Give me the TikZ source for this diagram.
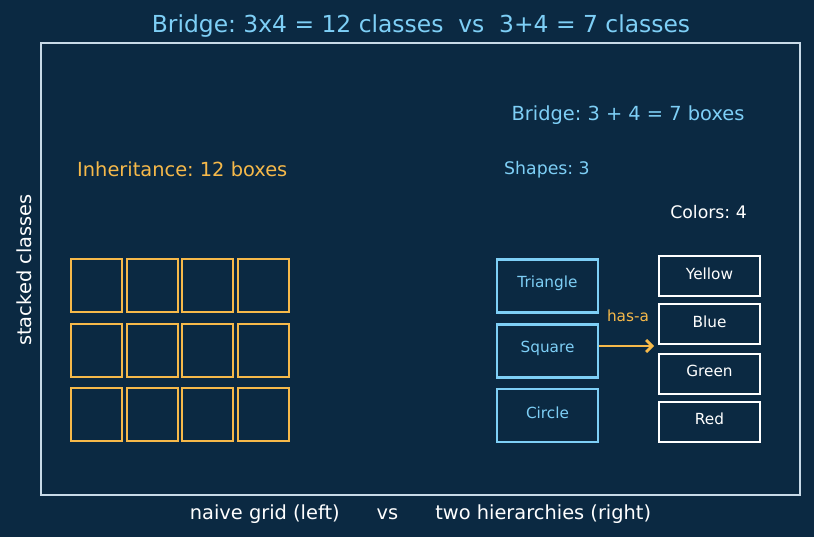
\documentclass[tikz,border=0pt]{standalone}
\usepackage{fontspec}
\setmainfont{DejaVu Sans}
\usetikzlibrary{arrows.meta}
\definecolor{bg}{HTML}{0B2942}
\definecolor{frame}{HTML}{C8DAE8}
\definecolor{orng}{HTML}{F6B94A}
\definecolor{sky}{HTML}{7ECFF6}
\frenchspacing
\tikzset{
  x=1pt,y=-1pt,
  gridbox/.style={draw=orng,line width=2pt,minimum width=51pt,minimum height=53pt,inner sep=0pt},
  shapebox/.style={draw=sky,line width=2.6pt,minimum width=101pt,minimum height=53pt,inner sep=0pt},
  colorbox/.style={draw=white,line width=2pt,minimum width=101pt,minimum height=40pt,inner sep=0pt},
  boxlbl/.style={font=\fontsize{15.3}{18}\selectfont,inner sep=0pt},
  mainlbl/.style={font=\fontsize{19.4}{23}\selectfont,inner sep=0pt},
  sublbl/.style={font=\fontsize{17.3}{21}\selectfont,inner sep=0pt},
}
\begin{document}
\begin{tikzpicture}
\fill[bg] (0,0) rectangle (814,537);
\useasboundingbox (0,0) rectangle (814,537);
\draw[frame,line width=1.5pt] (41,43) rectangle (800,495);
\node[text=sky,font=\fontsize{23.4}{28}\selectfont,inner sep=0pt] (title) at (421,26.5) {Bridge: 3x4 = 12 classes\ \ vs\ \ 3+4 = 7 classes};
\node[mainlbl,text=white,rotate=90] (ylab) at (24,270) {stacked classes};
\node[mainlbl,text=white] (xlab) at (420.5,514.5) {naive grid (left)\ \ \ \ \ \ vs\ \ \ \ \ \ two hierarchies (right)};
% left grid
\node[mainlbl,text=orng,anchor=west] (inh) at (77,169.5) {Inheritance: 12 boxes};
\foreach \r/\y in {1/285.5,2/350.5,3/414.5}{
  \foreach \c/\x in {1/96.5,2/152,3/207.5,4/263.5}{
    \node[gridbox] (g\r\c) at (\x,\y) {};
  }
}
% bridge
\node[mainlbl,text=sky] (br) at (628,115.5) {Bridge: 3 + 4 = 7 boxes};
\node[sublbl,text=sky,anchor=west] (shp) at (504,169.5) {Shapes: 3};
\node[sublbl,text=white,anchor=east] (col) at (747,212) {Colors: 4};
\node[shapebox] (tri) at (547.5,286) {};
\node[shapebox] (sq) at (547.5,351) {};
\node[shapebox] (cir) at (547.5,415.5) {};
\node[boxlbl,text=sky] at (547.5,283) {Triangle};
\node[boxlbl,text=sky] at (547.5,348) {Square};
\node[boxlbl,text=sky] at (547.5,413) {Circle};
\node[colorbox] (yel) at (709.5,276.5) {};
\node[colorbox] (blu) at (709.5,324) {};
\node[colorbox] (grn) at (709.5,373.5) {};
\node[colorbox] (red) at (709.5,421.5) {};
\node[boxlbl,text=white] at (709.5,274) {Yellow};
\node[boxlbl,text=white] at (709.5,322) {Blue};
\node[boxlbl,text=white] at (709.5,371) {Green};
\node[boxlbl,text=white] at (709.5,419) {Red};
\coordinate (atip) at (654,346);
\draw[orng,line width=2.8pt,-{Straight Barb[length=6pt,width=12pt]}] (sq.east |- atip) -- (atip);
\node[boxlbl,text=orng] (has) at (628,316) {has-a};
\end{tikzpicture}
\end{document}
